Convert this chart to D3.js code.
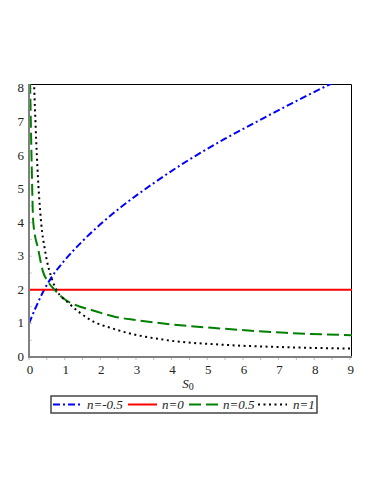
<!DOCTYPE html>
<html>
<head>
<meta charset="utf-8">
<script src="https://cdn.jsdelivr.net/npm/d3@7"></script>
<style>
  body { margin: 0; background: #fff; }
  svg { display: block; }
</style>
</head>
<body>
<svg width="382" height="494"></svg>
<script>
// values
const xTicks = [0, 1, 2, 3, 4, 5, 6, 7, 8, 9];
const yTicks = [0, 1, 2, 3, 4, 5, 6, 7, 8];

const blueX = [0, 0.2, 0.4, 0.6, 1.0, 1.5, 2.0, 2.6, 3.5, 4.5, 5.5, 6.5, 7.4, 8.4, 8.6];
const blueY = [1.0, 1.5, 1.95, 2.32, 2.88, 3.45, 3.95, 4.48, 5.18, 5.88, 6.5, 7.07, 7.57, 8.1, 8.2];

const redX = [0, 9.06];
const redY = [2, 2];

const greenX = [0.03, 0.07, 0.12, 0.26, 0.39, 0.53, 0.72, 1.0, 1.28, 1.75, 2.4, 3.0, 4.0, 5.35, 7.2, 9.06];
const greenY = [8.2, 6.0, 4.0, 3.2, 2.55, 2.25, 2.0, 1.72, 1.56, 1.4, 1.2, 1.1, 0.97, 0.85, 0.72, 0.65];

const blackX = [0.14, 0.22, 0.34, 0.44, 0.67, 0.77, 1.09, 1.75, 2.4, 3.95, 5.36, 7.24, 9.06];
const blackY = [8.2, 6.0, 4.0, 3.23, 2.24, 2.0, 1.63, 1.09, 0.83, 0.49, 0.37, 0.29, 0.25];

const seriesNames = ['n=-0.5', 'n=0', 'n=0.5', 'n=1'];

const series = [
  { name: seriesNames[0], xs: blueX, ys: blueY, color: '#0000ff', dash: '7,3,2,3' },
  { name: seriesNames[1], xs: redX, ys: redY, color: '#ff0000', dash: null },
  { name: seriesNames[2], xs: greenX, ys: greenY, color: '#008000', dash: '12,5' },
  { name: seriesNames[3], xs: blackX, ys: blackY, color: '#000000', dash: '2,3.5' }
];

const serif = "'Liberation Serif', 'Times New Roman', 'DejaVu Serif', serif";

const margin = { top: 84, right: 30, bottom: 137, left: 29 };
const width = 382 - margin.left - margin.right;
const height = 494 - margin.top - margin.bottom;

const x = d3.scaleLinear().domain([0, 9.06]).range([0, width]);
const y = d3.scaleLinear().domain([0, 8.13]).range([height, 0]);

const svg = d3.select('svg')
  .attr('font-family', serif)
  .append('g')
  .attr('transform', `translate(${margin.left}, ${margin.top})`);

svg.append('clipPath')
  .attr('id', 'plotClip')
  .append('rect')
  .attr('width', width)
  .attr('height', height);

// top and right frame
svg.append('path')
  .attr('d', `M0,0.5H${width - 0.5}V${height}`)
  .attr('fill', 'none')
  .attr('stroke', '#000')
  .attr('stroke-width', 1);

// minor ticks
const minorX = d3.range(0, 9.01, 0.5);
svg.selectAll('.xminor')
  .data(minorX)
  .enter()
  .append('line')
  .attr('x1', d => x(d))
  .attr('x2', d => x(d))
  .attr('y1', height)
  .attr('y2', height + 3)
  .attr('stroke', '#bbb')
  .attr('stroke-width', 1);

const minorY = d3.range(0, 8.01, 0.5);
svg.selectAll('.yminor')
  .data(minorY)
  .enter()
  .append('line')
  .attr('x1', 0)
  .attr('x2', 3)
  .attr('y1', d => y(d))
  .attr('y2', d => y(d))
  .attr('stroke', '#ccc')
  .attr('stroke-width', 1);

const line = d3.line()
  .x(d => x(d[0]))
  .y(d => y(d[1]))
  .curve(d3.curveMonotoneX);

const curves = svg.append('g').attr('clip-path', 'url(#plotClip)');

series.forEach(s => {
  curves.append('path')
    .datum(s.xs.map((v, i) => [v, s.ys[i]]))
    .attr('d', line)
    .attr('fill', 'none')
    .attr('stroke', s.color)
    .attr('stroke-width', 2)
    .attr('stroke-dasharray', s.dash);
});

// left and bottom axes (gray)
svg.append('path')
  .attr('d', `M0,0V${height}H${width}`)
  .attr('fill', 'none')
  .attr('stroke', '#808080')
  .attr('stroke-width', 2);

svg.selectAll('.xlabel')
  .data(xTicks)
  .enter()
  .append('text')
  .attr('x', d => x(d) + 1)
  .attr('y', height + 17)
  .attr('text-anchor', 'middle')
  .attr('font-size', 13)
  .attr('fill', '#222')
  .text(d => d);

svg.selectAll('.ylabel')
  .data(yTicks)
  .enter()
  .append('text')
  .attr('x', -5)
  .attr('y', d => y(d) + 4)
  .attr('text-anchor', 'end')
  .attr('font-size', 13)
  .attr('fill', '#222')
  .text(d => d);

const xTitle = svg.append('text')
  .attr('x', 159)
  .attr('y', height + 31)
  .attr('text-anchor', 'middle')
  .attr('font-size', 13)
  .attr('font-style', 'italic')
  .attr('fill', '#222');
xTitle.append('tspan').text('S');
xTitle.append('tspan').attr('font-size', 10).attr('dy', 2).attr('font-style', 'normal').text('0');

// legend
const legend = d3.select('svg').append('g')
  .attr('transform', 'translate(51, 396)');

legend.append('rect')
  .attr('width', 266)
  .attr('height', 17)
  .attr('fill', '#fff')
  .attr('stroke', '#444')
  .attr('stroke-width', 1.5);

const legendLineX = [2, 77, 138, 207];
const legendTextX = [36, 111, 172, 242];

const legendItems = legend.selectAll('.legend-item')
  .data(series)
  .enter()
  .append('g')
  .attr('class', 'legend-item');

legendItems.append('line')
  .attr('x1', (d, i) => legendLineX[i])
  .attr('x2', (d, i) => legendLineX[i] + 29)
  .attr('y1', 8.5)
  .attr('y2', 8.5)
  .attr('stroke', d => d.color)
  .attr('stroke-width', 2)
  .attr('stroke-dasharray', d => d.dash);

legendItems.append('text')
  .attr('x', (d, i) => legendTextX[i])
  .attr('y', 13)
  .attr('font-size', 13)
  .attr('font-style', 'italic')
  .attr('fill', '#222')
  .text(d => d.name);
</script>
</body>
</html>
